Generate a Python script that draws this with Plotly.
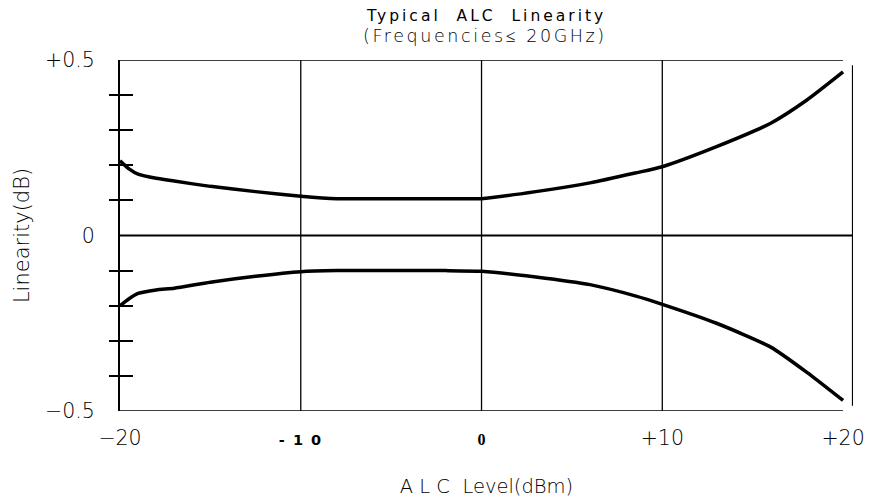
import plotly.graph_objects as go

# ---- data ----
alc_level_upper = [-20, -19.5, -19, -18, -17, -15, -12.5, -10, -8, -5, -2, 0, 3, 6, 8.5, 10, 13, 16, 18, 20]
linearity_upper = [0.213, 0.19, 0.175, 0.163, 0.155, 0.14, 0.125, 0.112, 0.105, 0.105, 0.105, 0.105, 0.125, 0.15, 0.178, 0.196, 0.253, 0.32, 0.386, 0.466]

alc_level_lower = [-20, -19.5, -19, -18, -17, -15, -12.5, -10, -8, -5, -2, 0, 3, 6, 8.5, 10, 13, 16, 18, 20]
linearity_lower = [-0.2, -0.18, -0.165, -0.155, -0.15, -0.133, -0.116, -0.103, -0.1, -0.1, -0.1, -0.102, -0.118, -0.14, -0.172, -0.196, -0.25, -0.318, -0.39, -0.47]

x_tick_vals = [-20, -10, 0, 10, 20]
x_tick_text = [
    "\u221220",
    "<b><span style='font-size:14.5px;letter-spacing:1.5px'>- 1 0</span></b>",
    "<b><span style='font-family:Liberation Serif;font-size:16px'>0</span></b>",
    "+10",
    "+20",
]
y_label_vals = [-0.5, 0, 0.5]
y_label_text = ["\u22120.5", "0", "+0.5"]
y_minor_ticks = [-0.4, -0.3, -0.2, -0.1, 0.1, 0.2, 0.3, 0.4]
grid_x = [-10, 0, 10]

title_line1 = "Typical  ALC  Linearity"
title_line2 = "(Frequencies\u2264 20GHz)"
x_title = "A L C  Level(dBm)"
y_title = "Linearity(dB)"

FONT = "DejaVu Sans"
X_MAX = 20.55

fig = go.Figure()
fig.add_trace(go.Scatter(x=alc_level_upper, y=linearity_upper, mode="lines",
                         line=dict(color="black", width=3.5, shape="spline", smoothing=0.6),
                         showlegend=False, hoverinfo="skip"))
fig.add_trace(go.Scatter(x=alc_level_lower, y=linearity_lower, mode="lines",
                         line=dict(color="black", width=3.5, shape="spline", smoothing=0.6),
                         showlegend=False, hoverinfo="skip"))
# invisible traces to activate overlay axes (tick marks crossing the left axis)
fig.add_trace(go.Scatter(x=[-20], y=[0], yaxis="y2", mode="markers",
                         marker=dict(opacity=0), showlegend=False, hoverinfo="skip"))
fig.add_trace(go.Scatter(x=[-20], y=[0], yaxis="y3", mode="markers",
                         marker=dict(opacity=0), showlegend=False, hoverinfo="skip"))

shapes = []
for gx in grid_x:
    shapes.append(dict(type="line", xref="x", yref="y", x0=gx, x1=gx, y0=-0.5, y1=0.5,
                       line=dict(color="black", width=1.3), layer="below"))
shapes.append(dict(type="line", xref="x", yref="y", x0=-20, x1=20, y0=0.5, y1=0.5,
                   line=dict(color="black", width=1.6)))
shapes.append(dict(type="line", xref="x", yref="y", x0=-20, x1=20, y0=-0.5, y1=-0.5,
                   line=dict(color="black", width=1.6)))
shapes.append(dict(type="line", xref="x", yref="y", x0=X_MAX, x1=X_MAX, y0=-0.485, y1=0.485,
                   line=dict(color="black", width=2.2)))
shapes.append(dict(type="line", xref="x", yref="y", x0=-20, x1=X_MAX, y0=0, y1=0,
                   line=dict(color="black", width=2.2)))

annotations = [
    dict(text="<span style='letter-spacing:3px'>" + title_line1 + "</span>",
         xref="paper", yref="paper", x=(486 - 120) / 733, y=1 + (60 - 16) / 351,
         xanchor="center", yanchor="middle", showarrow=False,
         font=dict(family=FONT, size=15.5, color="black")),
    dict(text="<span style='letter-spacing:2.6px'>" + title_line2 + "</span>",
         xref="paper", yref="paper", x=(485 - 120) / 733, y=1 + (60 - 36) / 351,
         xanchor="center", yanchor="middle", showarrow=False,
         font=dict(family=FONT, size=17.5, color="black", weight=300)),
]

fig.update_layout(
    width=893, height=499,
    margin=dict(l=120, r=40, t=60, b=88),
    paper_bgcolor="white", plot_bgcolor="white",
    font=dict(family=FONT, color="black", size=16),
    shapes=shapes,
    annotations=annotations,
    xaxis=dict(range=[-20, X_MAX], tickvals=x_tick_vals, ticktext=x_tick_text,
               showgrid=False, zeroline=False, showline=False, ticks="", automargin=False,
               ticklabelstandoff=12, tickfont=dict(size=20.5, family=FONT, weight=300),
               title=dict(text=x_title, standoff=30, font=dict(size=19.5, family=FONT, weight=300))),
    yaxis=dict(range=[-0.5, 0.5], tickvals=y_label_vals, ticktext=y_label_text, automargin=False,
               showgrid=False, zeroline=False, showline=True, linecolor="black", linewidth=2,
               ticks="", ticklabelstandoff=19, tickfont=dict(size=20.5, family=FONT, weight=300),
               title=dict(text=y_title, standoff=10, font=dict(size=21, family=FONT, weight=300))),
    yaxis2=dict(range=[-0.5, 0.5], overlaying="y", side="left", tickvals=y_minor_ticks,
                ticks="outside", ticklen=10, tickwidth=1.6, tickcolor="black", automargin=False,
                showticklabels=False, showgrid=False, zeroline=False, showline=False),
    yaxis3=dict(range=[-0.5, 0.5], overlaying="y", side="left", tickvals=y_minor_ticks,
                ticks="inside", ticklen=13, tickwidth=1.6, tickcolor="black", automargin=False,
                showticklabels=False, showgrid=False, zeroline=False, showline=False),
)

fig.write_html("out.html", config={"displayModeBar": False},
               post_script="document.body.style.margin='0';document.body.style.padding='0';")
